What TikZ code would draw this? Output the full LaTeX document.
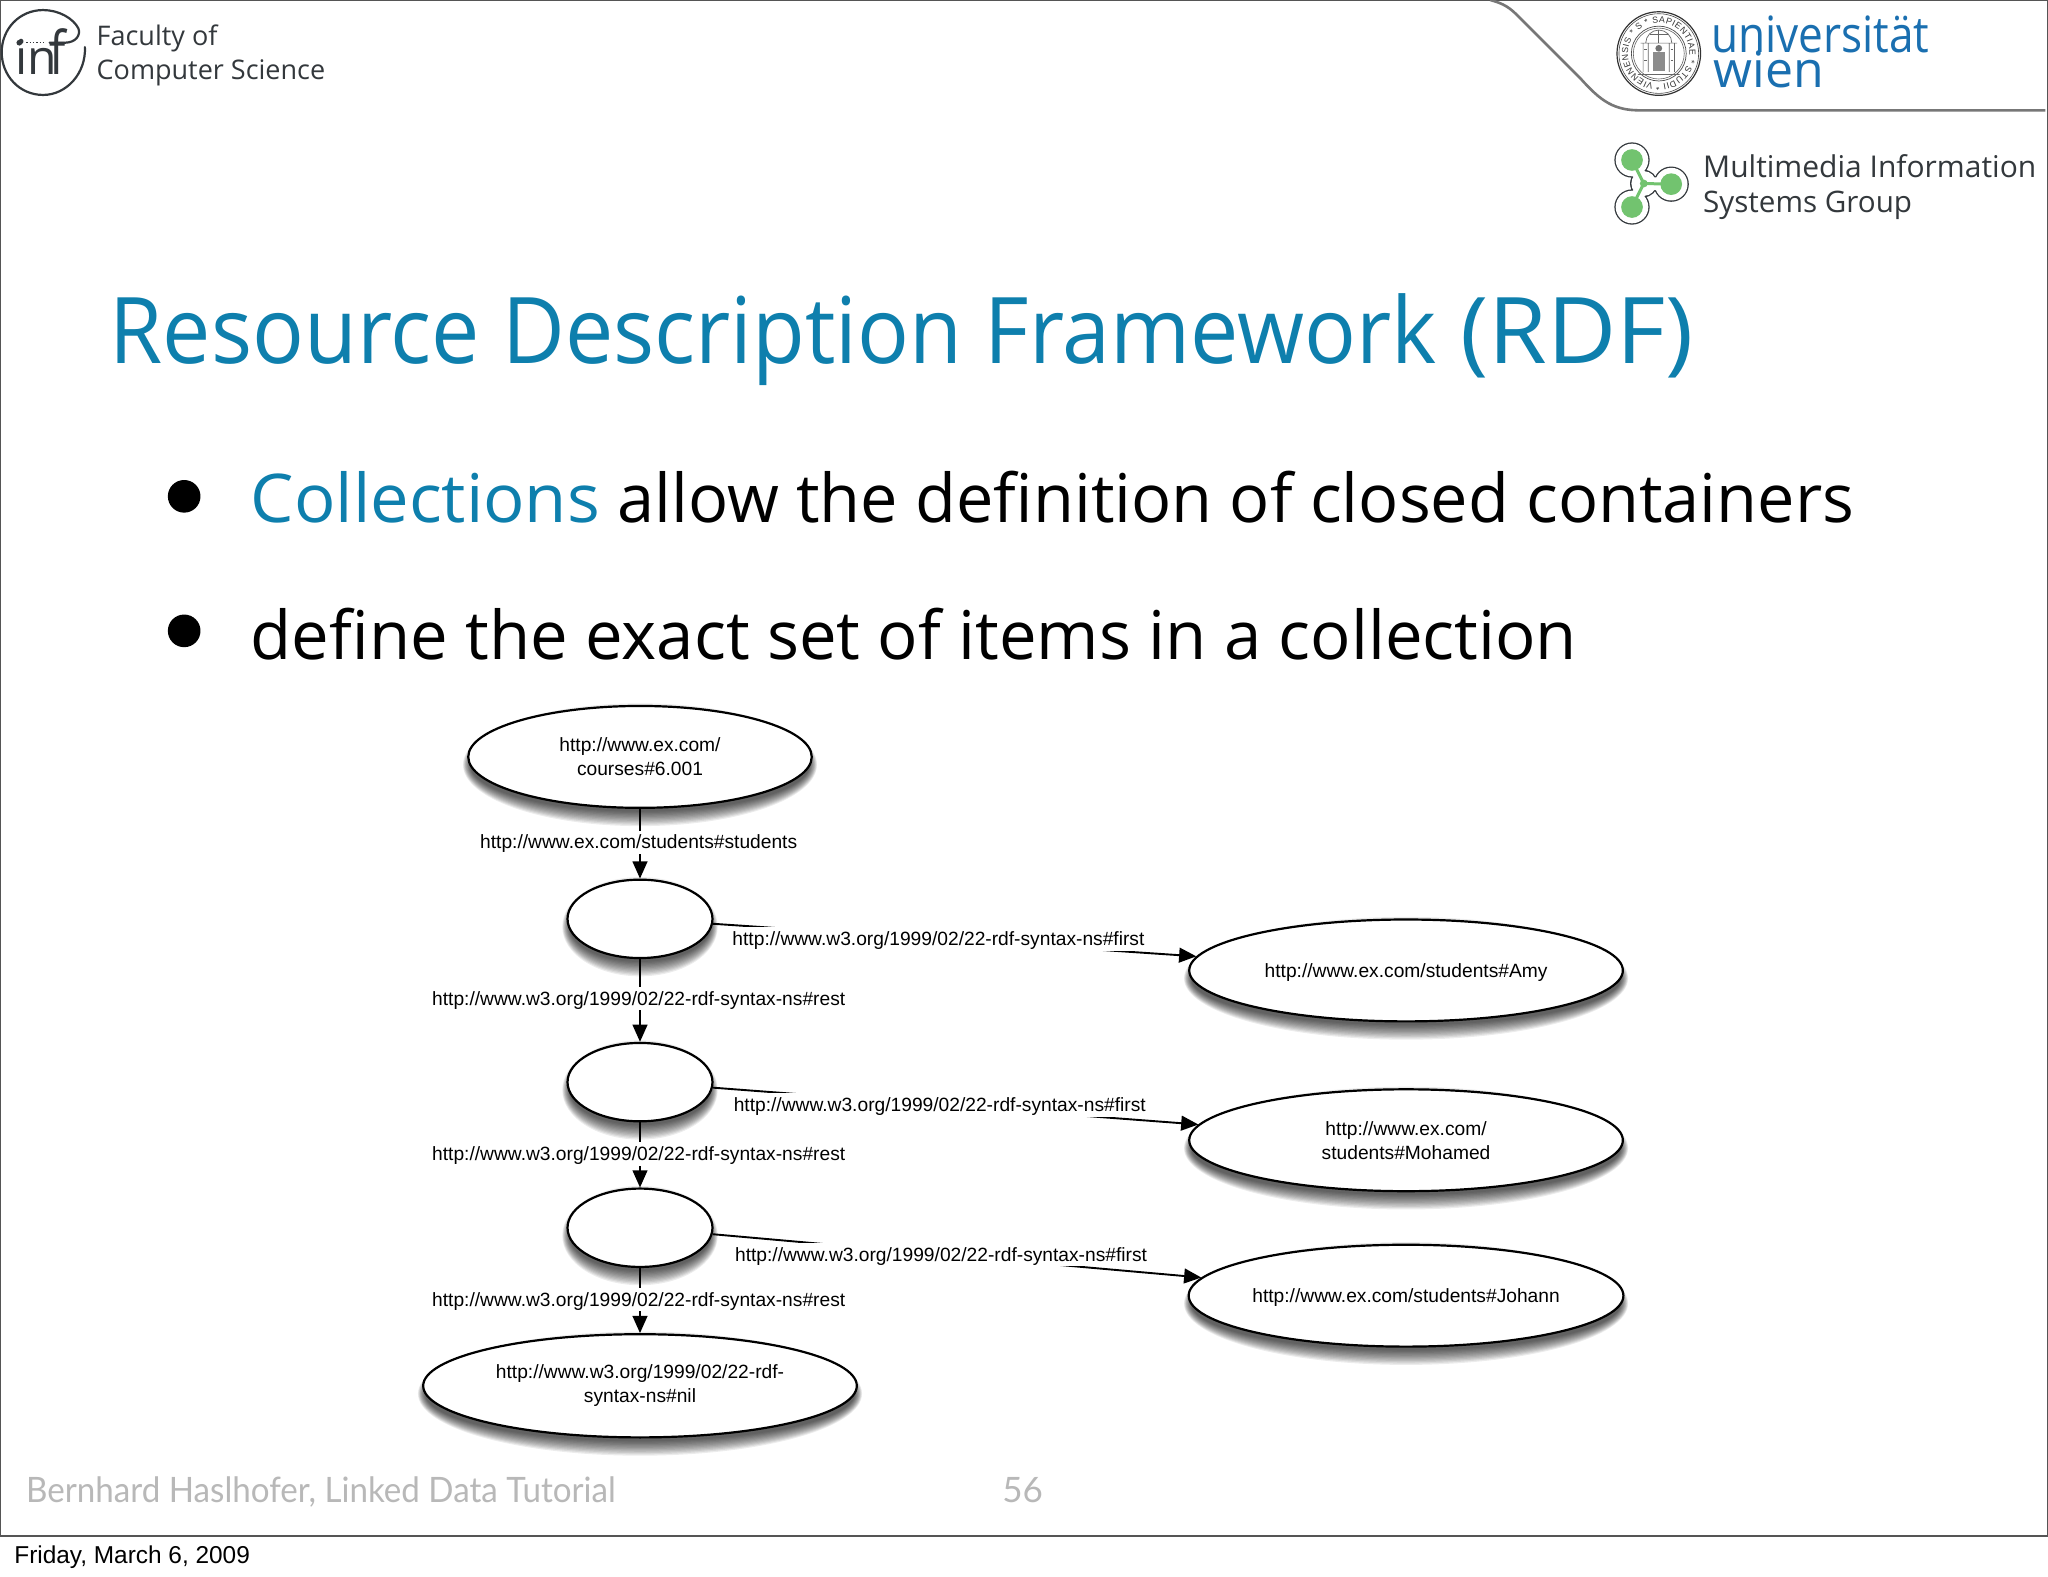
\documentclass[tikz,border=0pt]{standalone}
\usepackage{fontspec}
\usetikzlibrary{shapes.geometric,arrows.meta,decorations.text}
\setmainfont{Open Sans}
\newfontfamily\hv{Liberation Sans}
\newfontfamily\lt{Lato}
\definecolor{titleblue}{HTML}{0E7FAD}
\definecolor{uniblue}{HTML}{1A6FB0}
\definecolor{frameg}{HTML}{555555}
\definecolor{curveg}{HTML}{777777}
\definecolor{hdtext}{HTML}{33383C}
\definecolor{footg}{HTML}{B8B8B8}
\definecolor{misgreen}{HTML}{72C36F}
\newcommand{\fsz}[1]{\fontsize{#1pt}{#1pt}\selectfont}
\newcommand{\softshadow}[4]{%
  \foreach \k in {8,7,...,-3}{
    \fill[black,opacity=.075] (#1,#2+6) ellipse [x radius=#3+0.5*\k, y radius=#4+\k];
  }}
\newcommand{\lowertext}[1]{\raisebox{-3.6pt}[0pt][0pt]{#1}}
\tikzset{
  x=0.653pt,y=-0.653pt,
  plain/.style={inner sep=0pt,outer sep=0pt},
  oval/.style 2 args={ellipse,draw=black,fill=white,line width=1.1pt,inner sep=0pt,
    minimum width=#1*0.653pt,minimum height=#2*0.653pt,align=center,
    font=\hv\fsz{9.6},text=black},
  edgelab/.style={fill=white,inner xsep=1pt,inner ysep=0pt,text height=9.1pt,text depth=2.6pt,
    font=\hv\fsz{9.6},text=black},
  conn/.style={line width=0.95pt,draw=black,-{Triangle[length=8.6pt,width=7.4pt]}},
}
\begin{document}
\begin{tikzpicture}
\useasboundingbox (0,0) rectangle (1568,1206.7);
\fill[white] (0,0) rectangle (1568,1206.7);
% frame
\draw[frameg,line width=1.2pt] (0,1176) -- (0,0) -- (1568,0) -- (1568,1176) -- cycle;
\draw[curveg,line width=1.3pt] (1141,0) .. controls (1152,3) and (1156,6) .. (1163,13)
  -- (1210,60) .. controls (1226,78) and (1236,84.5) .. (1256,84.5) -- (1566,84.5);
% inf logo
\draw[hdtext,line width=1.1pt,line cap=round]
  (65,36) .. controls (66,56) and (51,72.7) .. (33,72.7)
  .. controls (15,72.7) and (1.3,58) .. (1.3,40)
  .. controls (1.3,22) and (15,7.7) .. (33,7.7)
  .. controls (45,7.7) and (56,14) .. (60,21.7)
  .. controls (62,27) and (58,32.5) .. (50,32.7) -- (38,32.7);
\node[plain,anchor=base west,text=hdtext] (inftext) at (11.5,57) {\fsz{24}in};
\node[plain,anchor=base west,text=hdtext] (inff) at (38,57) {\scalebox{1}[1.25]{\fsz{24}f}};
\draw[hdtext,line width=0.7pt,densely dotted] (20,32.7) -- (34,32.7);
\fill[hdtext] (14.8,32.7) circle (2.2);
\node[plain,anchor=base west,text=hdtext] (fac1) at (74,35) {\fsz{13.5}Faculty of};
\node[plain,anchor=base west,text=hdtext] (fac2) at (74,61) {\fsz{13.5}Computer Science};
% seal
\draw[black!80,line width=.6pt] (1270,41) circle (32);
\draw[black!70,line width=.3pt] (1270,41) circle (30.5);
\draw[black!70,line width=.35pt] (1270,41) circle (21);
\draw[black!60,line width=.3pt] (1270,41) circle (19.5);
\path[decorate,decoration={text along path,text align={fit to path},
  text={|\hv\fsz{4.4}\color{black!80}|VIENNENSIS * S * SAPIENTIAE * STUDII *}}]
  (1270,41) ++(100:23.5) arc[start angle=100,end angle=455,radius=23.5];
\draw[black!60,line width=.35pt] (1254,57) -- (1286,57) (1258,33) -- (1258,55) (1262,33) -- (1262,55)
  (1278,33) -- (1278,55) (1282,33) -- (1282,55) (1256,33) -- (1284,33)
  (1260,33) arc[start angle=180,end angle=360,radius=10];
\draw[black!60,line width=.35pt] (1270,23) -- (1270,33) (1263,26) -- (1277,26);
\fill[black!55] (1270,37) circle (2.6);
\fill[black!45] (1265.5,39.5) rectangle (1274.5,54);
\draw[black!60,line width=.3pt] (1279,38) -- (1281,38) (1259,38) -- (1261,38) (1279,46) -- (1281,46) (1259,46) -- (1261,46);
% universitaet wien
\node[plain,anchor=base west,text=uniblue] (uni) at (1310,40) {\scalebox{.884}[1]{\fsz{25}universität}};
\node[plain,anchor=base west,text=uniblue] (wien) at (1312,67) {\fsz{25}wien};
% MIS logo
\coordinate (mc) at (1258.5,140.5);
\coordinate (m1) at (1249.5,122.5);
\coordinate (m2) at (1279.5,141);
\coordinate (m3) at (1249.5,158.5);
\foreach \c/\r/\w/\q in {hdtext/13.5/7.5/10.5,white/12.5/6.3/9.5}{
  \draw[\c,line width=\w pt] (m1) -- (mc) (m2) -- (mc) (m3) -- (mc);
  \fill[\c] (m1) circle (\r) (m2) circle (\r) (m3) circle (\r) (mc) circle (\q);
}
\draw[misgreen,line width=1.5pt] (m1) -- (mc) (m2) -- (mc) (m3) -- (mc);
\fill[misgreen] (m1) circle (8.3) (m2) circle (8.3) (m3) circle (8.3) (mc) circle (3);
\node[plain,anchor=base west,text=hdtext] (mis1) at (1304,136) {\fsz{15}Multimedia Information};
\node[plain,anchor=base west,text=hdtext] (mis2) at (1304,163) {\fsz{14.8}Systems Group};
% title + bullets
\node[plain,anchor=base west,text=titleblue] (title) at (84,278) {\fsz{46}\scalebox{.936}[1]{Resource Description Framework} \scalebox{1.033}[1]{(RDF)}};
\fill[black] (141,380) circle (12.5);
\fill[black] (141,483) circle (12.5);
\node[plain,anchor=base west] (b1) at (192,400) {\fsz{33.6}\textcolor{titleblue}{\scalebox{1.023}[1]{Collections}} \scalebox{.992}[1]{allow the definition of closed containers}};
\node[plain,anchor=base west] (b2) at (192,505) {\fsz{33.6}\scalebox{.998}[1]{define the exact set of items in a collection}};
% shadows
\softshadow{490}{579.5}{131.5}{39}
\softshadow{490}{703.5}{55.5}{30}
\softshadow{490}{828.5}{55.5}{30}
\softshadow{490}{940}{55.5}{30}
\softshadow{490}{1061}{166}{39.5}
\softshadow{1076.5}{743}{166}{39}
\softshadow{1076.5}{873}{166}{39}
\softshadow{1076.5}{992}{166}{39}
% nodes
\node[oval={263}{78}] (course) at (490,579.5) {http://www.ex.com/\\[2.4pt]courses\#6.001};
\node[oval={111}{60}] (b1n) at (490,703.5) {};
\node[oval={111}{60}] (b2n) at (490,828.5) {};
\node[oval={111}{60}] (b3n) at (490,940) {};
\node[oval={332}{79}] (nil) at (490,1061) {http://www.w3.org/1999/02/22-rdf-\\[2.4pt]syntax-ns\#nil};
\node[oval={332}{78}] (amy) at (1076.5,743) {\lowertext{http://www.ex.com/students\#Amy}};
\node[oval={332}{78}] (moh) at (1076.5,873) {http://www.ex.com/\\[2.4pt]students\#Mohamed};
\node[oval={332}{78}] (joh) at (1076.5,992) {\lowertext{http://www.ex.com/students\#Johann}};
% connectors
\draw[conn] (course) -- (b1n);
\draw[conn] (b1n) -- (b2n);
\draw[conn] (b2n) -- (b3n);
\draw[conn] (b3n) -- (nil);
\draw[conn] (b1n) -- (amy);
\draw[conn] (b2n) -- (moh);
\draw[conn] (b3n) -- (joh);
% labels
\node[edgelab] (l0) at (489,645) {http://www.ex.com/students\#students};
\node[edgelab] (l1) at (489,764.5) {http://www.w3.org/1999/02/22-rdf-syntax-ns\#rest};
\node[edgelab] (l2) at (489,883.5) {http://www.w3.org/1999/02/22-rdf-syntax-ns\#rest};
\node[edgelab] (l3) at (489,995) {http://www.w3.org/1999/02/22-rdf-syntax-ns\#rest};
\node[edgelab] (f1) at (718.5,719) {http://www.w3.org/1999/02/22-rdf-syntax-ns\#first};
\node[edgelab] (f2) at (719.5,846) {http://www.w3.org/1999/02/22-rdf-syntax-ns\#first};
\node[edgelab] (f3) at (720.5,960.5) {http://www.w3.org/1999/02/22-rdf-syntax-ns\#first};
% footer
\node[plain,anchor=base west,text=footg] (foot) at (20,1150) {\scalebox{.947}[1]{\lt\fsz{17.5}Bernhard Haslhofer, Linked Data Tutorial}};
\node[plain,anchor=base,text=footg] (page) at (783,1150) {\lt\fsz{17.5}56};
\node[plain,anchor=base west] (date) at (11,1197) {\hv\fsz{12.2}Friday, March 6, 2009};
\end{tikzpicture}
\end{document}
